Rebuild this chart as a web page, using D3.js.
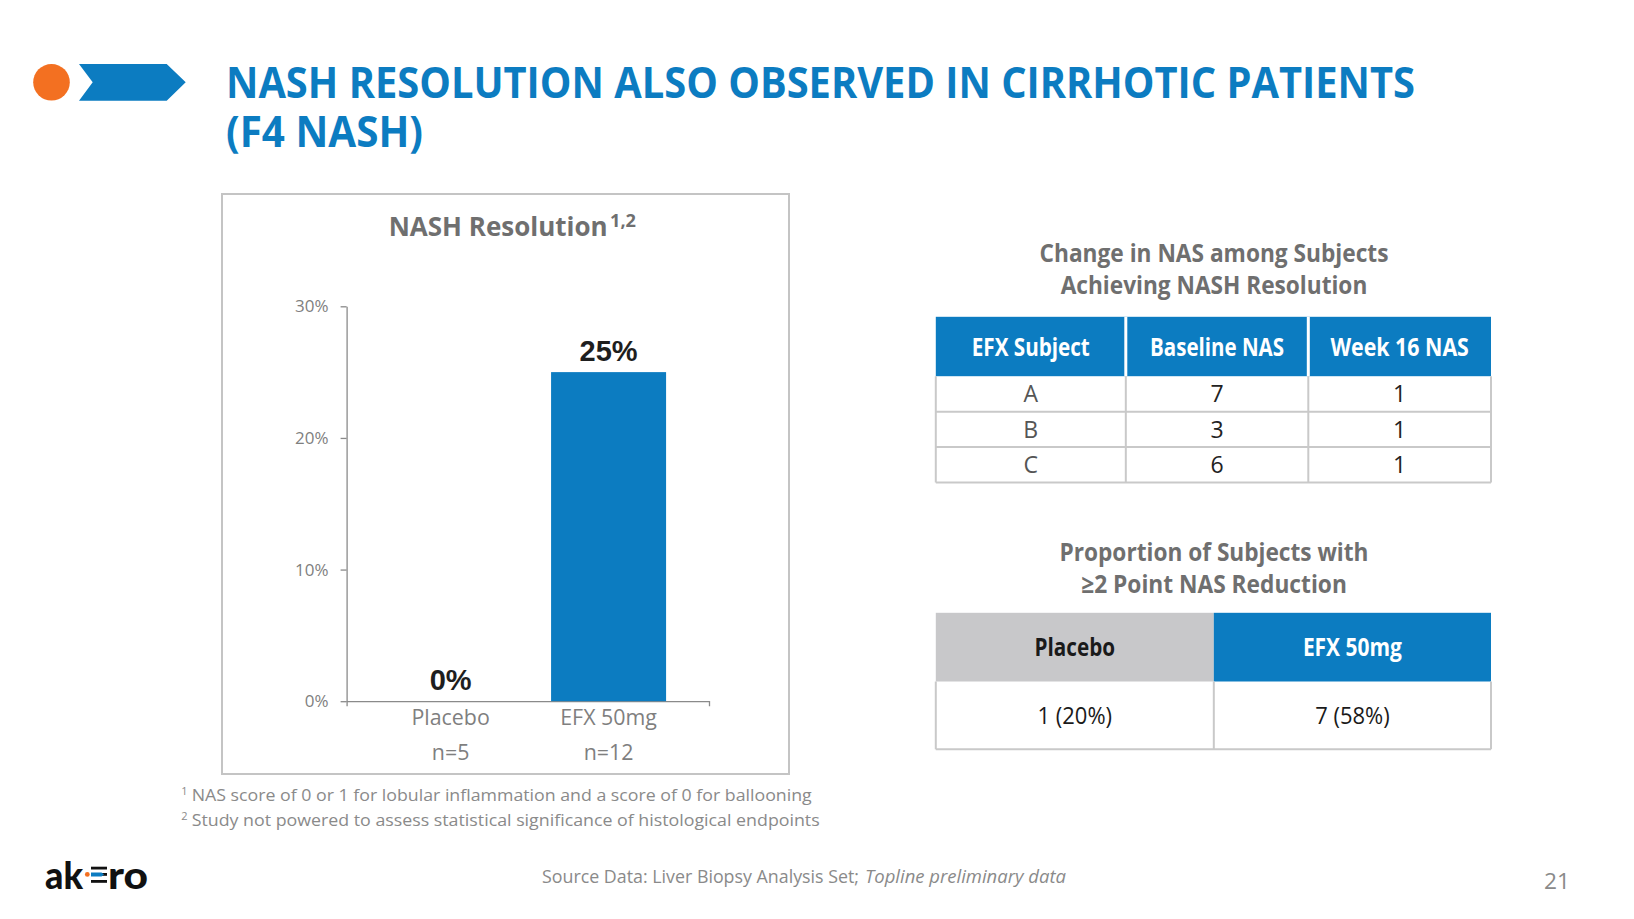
<!DOCTYPE html>
<html><head><meta charset="utf-8">
<script src="https://cdn.jsdelivr.net/npm/d3@7"></script>
<style>body{margin:0;background:#fff;} svg{display:block;}</style>
</head><body>
<svg id="c" width="1634" height="919"></svg>
<script>
// ---------- DATA ----------
const categories = ["Placebo", "EFX 50mg"];
const sampleSizes = ["n=5", "n=12"];
const resolutionPct = [0, 25];
const yTicks = [0, 10, 20, 30];

const nasHeaders = ["EFX Subject", "Baseline NAS", "Week 16 NAS"];
const nasSubjects = ["A", "B", "C"];
const baselineNAS = [7, 3, 6];
const week16NAS = [1, 1, 1];

const reductionGroups = ["Placebo", "EFX 50mg"];
const reductionCounts = [1, 7];
const reductionPct = [20, 58];

// ---------- STYLE ----------
const BLUE = "#0C7CC1", ORANGE = "#F37021", GREY_T = "#6f6f6f", LINE = "#c9c9c9";
const svg = d3.select("#c");

function txt(g, s, x, y, o) {
  const t = g.append("text").attr("x", x).attr("y", y).text(s)
    .attr("font-family", o.ff || "'Open Sans'").attr("font-size", o.fs)
    .attr("font-weight", o.fw || 400).attr("fill", o.fill || "#000")
    .attr("text-anchor", o.anchor || "start");
  if (o.style) t.attr("font-style", o.style);
  if (o.w) t.attr("textLength", o.w).attr("lengthAdjust", "spacingAndGlyphs");
  return t;
}

// ---------- HEADER ----------
svg.append("circle").attr("cx", 51.5).attr("cy", 82.3).attr("r", 18.3).attr("fill", ORANGE);
svg.append("path").attr("d", "M79,64 L166.7,64 L185.7,82.3 L166.7,100.7 L79,100.7 L92.7,82.3 Z").attr("fill", BLUE);
const title = svg.append("text").attr("font-family", "'Open Sans'").attr("font-size", 43)
  .attr("font-weight", 700).attr("fill", BLUE);
title.append("tspan").attr("x", 226).attr("y", 98).attr("textLength", 1189).attr("lengthAdjust", "spacingAndGlyphs")
  .text("NASH RESOLUTION ALSO OBSERVED IN CIRRHOTIC PATIENTS");
title.append("tspan").attr("x", 226).attr("y", 147).attr("textLength", 197).attr("lengthAdjust", "spacingAndGlyphs")
  .text("(F4 NASH)");

// ---------- BAR CHART ----------
svg.append("rect").attr("x", 222).attr("y", 194).attr("width", 567).attr("height", 580)
  .attr("fill", "none").attr("stroke", "#c4c4c4").attr("stroke-width", 2);
const ct = svg.append("text").attr("font-family", "'Open Sans'").attr("font-weight", 700).attr("fill", GREY_T);
ct.append("tspan").attr("x", 388.7).attr("y", 235.5).attr("font-size", 27).attr("textLength", 219)
  .attr("lengthAdjust", "spacingAndGlyphs").text("NASH Resolution");
ct.append("tspan").attr("x", 610).attr("y", 226.5).attr("font-size", 17).attr("textLength", 26)
  .attr("lengthAdjust", "spacingAndGlyphs").text("1,2");

const y = d3.scaleLinear().domain([0, 30]).range([701.2, 306.3]);
const x = d3.scaleBand().domain(categories).range([346.6, 709])
  .paddingInner(0.272).paddingOuter(0.283).align(0.52);

const yAx = svg.append("g").attr("transform", "translate(346.6,0)")
  .call(d3.axisLeft(y).tickValues(yTicks).tickFormat(d => d + "%").tickSizeInner(6).tickSizeOuter(0).tickPadding(12));
yAx.selectAll("text").attr("font-family", "'Open Sans'").attr("font-size", 17).attr("fill", "#7f7f7f");
yAx.selectAll("line,path").attr("stroke", "#8a8a8a").attr("stroke-width", 1.3);

const xAx = svg.append("g").attr("transform", "translate(0," + y(0) + ")")
  .call(d3.axisBottom(x).tickSizeInner(0).tickSizeOuter(5).tickPadding(9));
xAx.selectAll("text").attr("font-family", "'Open Sans'").attr("font-size", 21.4).attr("fill", "#7f7f7f");
xAx.selectAll("line,path").attr("stroke", "#8a8a8a").attr("stroke-width", 1.3);

svg.append("g").selectAll("text").data(categories).join("text")
  .attr("x", d => x(d) + x.bandwidth() / 2).attr("y", 759.8)
  .attr("text-anchor", "middle").attr("font-family", "'Open Sans'").attr("font-size", 21.4).attr("fill", "#7f7f7f")
  .text((d, i) => sampleSizes[i]);

svg.append("g").selectAll("rect").data(categories).join("rect")
  .attr("x", d => x(d)).attr("width", x.bandwidth())
  .attr("y", (d, i) => y(resolutionPct[i])).attr("height", (d, i) => y(0) - y(resolutionPct[i]))
  .attr("fill", BLUE);

svg.append("g").selectAll("text").data(categories).join("text")
  .attr("x", d => x(d) + x.bandwidth() / 2).attr("y", (d, i) => y(resolutionPct[i]) - 11)
  .attr("text-anchor", "middle").attr("font-family", "'Liberation Sans'").attr("font-weight", 700)
  .attr("font-size", 29).attr("fill", "#1e1e1e")
  .text((d, i) => resolutionPct[i] + "%");

// ---------- TABLE 1 ----------
txt(svg, "Change in NAS among Subjects", 1214, 261.6, {fs: 25, fw: 700, fill: GREY_T, anchor: "middle", w: 349});
txt(svg, "Achieving NASH Resolution", 1214, 293.9, {fs: 25, fw: 700, fill: GREY_T, anchor: "middle", w: 306.6});

const t1x = [935.8, 1125.8, 1308.3, 1491];
const t1Top = 316.8, t1HeadB = 376.2, t1Bot = 482.5;
const t1Rows = d3.scaleBand().domain(nasSubjects).range([t1HeadB, t1Bot]);
const hdrW1 = [118, 134, 138.5];

svg.append("rect").attr("x", t1x[0]).attr("y", t1Top).attr("width", t1x[3] - t1x[0]).attr("height", t1HeadB - t1Top).attr("fill", BLUE);
[t1x[1], t1x[2]].forEach(xx => svg.append("line").attr("x1", xx).attr("x2", xx).attr("y1", t1Top).attr("y2", t1HeadB).attr("stroke", "#fff").attr("stroke-width", 3));
nasHeaders.forEach((h, i) => txt(svg, h, (t1x[i] + t1x[i + 1]) / 2, (t1Top + t1HeadB) / 2 + 9, {fs: 25, fw: 700, fill: "#fff", anchor: "middle", w: hdrW1[i]}));

const g1 = svg.append("g");
nasSubjects.forEach(s => {
  const yb = t1Rows(s) + t1Rows.bandwidth();
  g1.append("line").attr("x1", t1x[0]).attr("x2", t1x[3]).attr("y1", yb).attr("y2", yb).attr("stroke", LINE).attr("stroke-width", 2);
});
t1x.forEach(xx => g1.append("line").attr("x1", xx).attr("x2", xx).attr("y1", t1HeadB).attr("y2", t1Bot).attr("stroke", LINE).attr("stroke-width", 2));
nasSubjects.forEach((s, i) => {
  const yc = t1Rows(s) + t1Rows.bandwidth() / 2 + 8.3;
  txt(g1, s, (t1x[0] + t1x[1]) / 2, yc, {fs: 23, fill: "#555", anchor: "middle"});
  txt(g1, String(baselineNAS[i]), (t1x[1] + t1x[2]) / 2, yc, {fs: 23, fill: "#222", anchor: "middle"});
  txt(g1, String(week16NAS[i]), (t1x[2] + t1x[3]) / 2, yc, {fs: 23, fill: "#222", anchor: "middle"});
});

// ---------- TABLE 2 ----------
txt(svg, "Proportion of Subjects with", 1214, 560.6, {fs: 25, fw: 700, fill: GREY_T, anchor: "middle", w: 309});
txt(svg, "\u22652 Point NAS Reduction", 1214, 593, {fs: 25, fw: 700, fill: GREY_T, anchor: "middle", w: 265.7});

const t2x = [935.8, 1213.8, 1491];
const t2Top = 612.8, t2HeadB = 681.5, t2Bot = 749.3;
const hdrFill2 = ["#c8c8ca", BLUE], hdrText2 = ["#1a1a1a", "#fff"], hdrW2 = [80.5, 99];
reductionGroups.forEach((gname, i) => {
  svg.append("rect").attr("x", t2x[i]).attr("y", t2Top).attr("width", t2x[i + 1] - t2x[i]).attr("height", t2HeadB - t2Top).attr("fill", hdrFill2[i]);
  txt(svg, gname, (t2x[i] + t2x[i + 1]) / 2, (t2Top + t2HeadB) / 2 + 9, {fs: 25, fw: 700, fill: hdrText2[i], anchor: "middle", w: hdrW2[i]});
  txt(svg, reductionCounts[i] + " (" + reductionPct[i] + "%)", (t2x[i] + t2x[i + 1]) / 2, (t2HeadB + t2Bot) / 2 + 8.6, {fs: 24, fill: "#1a1a1a", anchor: "middle", w: 74.5});
});
t2x.forEach(xx => svg.append("line").attr("x1", xx).attr("x2", xx).attr("y1", t2HeadB).attr("y2", t2Bot).attr("stroke", LINE).attr("stroke-width", 2));
svg.append("line").attr("x1", t2x[0]).attr("x2", t2x[2]).attr("y1", t2Bot).attr("y2", t2Bot).attr("stroke", LINE).attr("stroke-width", 2);

// ---------- FOOTNOTES ----------
const FN = "#8a8a8a";
const f1 = svg.append("text").attr("font-family", "'Open Sans'").attr("fill", FN);
f1.append("tspan").attr("x", 181.3).attr("y", 795).attr("font-size", 11).text("1");
f1.append("tspan").attr("x", 191.7).attr("y", 801.4).attr("font-size", 16.5).attr("textLength", 620)
  .attr("lengthAdjust", "spacingAndGlyphs").text("NAS score of 0 or 1 for lobular inflammation and a score of 0 for ballooning");
const f2 = svg.append("text").attr("font-family", "'Open Sans'").attr("fill", FN);
f2.append("tspan").attr("x", 181.3).attr("y", 820).attr("font-size", 11).text("2");
f2.append("tspan").attr("x", 191.7).attr("y", 826.4).attr("font-size", 16.5).attr("textLength", 628)
  .attr("lengthAdjust", "spacingAndGlyphs").text("Study not powered to assess statistical significance of histological endpoints");

const src = svg.append("text").attr("font-family", "'Open Sans'").attr("font-size", 17.5).attr("fill", FN);
src.append("tspan").attr("x", 542).attr("y", 882.6).attr("textLength", 317).attr("lengthAdjust", "spacingAndGlyphs")
  .text("Source Data: Liver Biopsy Analysis Set;");
src.append("tspan").attr("x", 865).attr("y", 882.6).attr("font-style", "italic").attr("textLength", 201)
  .attr("lengthAdjust", "spacingAndGlyphs").text("Topline preliminary data");
txt(svg, "21", 1544, 889, {fs: 22, fill: FN, w: 26});

// ---------- LOGO ----------
txt(svg, "ak", 45, 889, {ff: "Lato", fs: 38, fw: 900, fill: "#111", w: 38});
txt(svg, "ro", 108, 889, {ff: "Lato", fs: 38, fw: 900, fill: "#111", w: 40});
svg.append("rect").attr("x", 91).attr("y", 866.7).attr("width", 16).attr("height", 2.8).attr("fill", "#111");
svg.append("rect").attr("x", 91).attr("y", 880).attr("width", 16).attr("height", 2.8).attr("fill", "#111");
svg.append("rect").attr("x", 91).attr("y", 873).attr("width", 16).attr("height", 2.8).attr("fill", "#111");
svg.append("path").attr("d", "M91,872.4 L101.5,872.4 L104,874.4 L101.5,876.4 L91,876.4 Z").attr("fill", BLUE);
svg.append("circle").attr("cx", 87.3).attr("cy", 874.4).attr("r", 2.4).attr("fill", ORANGE);
</script>
</body></html>
